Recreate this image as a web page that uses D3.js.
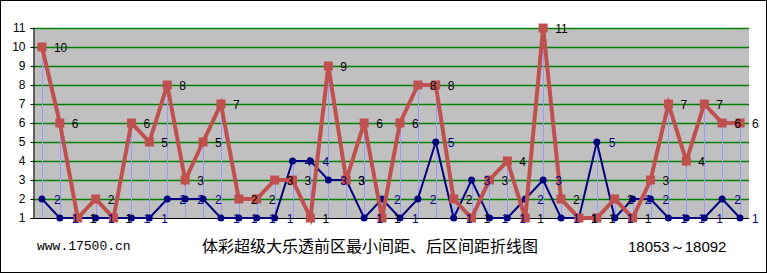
<!DOCTYPE html>
<html>
<head>
<meta charset="utf-8">
<script src="https://cdn.jsdelivr.net/npm/d3@7"></script>
<style>
  body { margin: 0; background: #fff; }
  svg { display: block; }
</style>
</head>
<body>
<div id="chart"></div>
<script>
// issues 18053 .. 18092
const issues = d3.range(18053, 18093).map(String);
// back zone interval (red)
const backGap = [10, 6, 1, 2, 1, 6, 5, 8, 3, 5, 7, 2, 2, 3, 3, 1, 9, 3, 6, 1,
                 6, 8, 8, 2, 1, 3, 4, 1, 11, 2, 1, 1, 2, 1, 3, 7, 4, 7, 6, 6];
// front zone min interval (blue)
const frontMin = [2, 1, 1, 1, 1, 1, 1, 2, 2, 2, 1, 1, 1, 1, 4, 4, 3, 3, 1, 2,
                  1, 2, 5, 1, 3, 1, 1, 2, 3, 1, 1, 5, 1, 2, 2, 1, 1, 1, 2, 1];
const yTicks = d3.range(1, 12);

const width = 767, height = 273;
const margin = { top: 28, right: 18, bottom: 55, left: 33 };

const svg = d3.select("#chart").append("svg")
  .attr("width", width)
  .attr("height", height);

// outer frame
svg.append("rect")
  .attr("x", 0.5).attr("y", 0.5)
  .attr("width", width - 1).attr("height", height - 1)
  .attr("fill", "#fff").attr("stroke", "#000");

const x = d3.scaleBand()
  .domain(issues)
  .range([margin.left, width - margin.right]);
const cx = (d) => x(d) + x.bandwidth() / 2;

const y = d3.scaleLinear()
  .domain([1, 11])
  .range([height - margin.bottom, margin.top]);

// plot background
svg.append("rect")
  .attr("x", margin.left).attr("y", margin.top)
  .attr("width", width - margin.right - margin.left)
  .attr("height", y(1) - y(11))
  .attr("fill", "#c0c0c0");

// gridlines
svg.append("g")
  .selectAll("line")
  .data(yTicks.slice(1))
  .join("line")
  .attr("x1", margin.left).attr("x2", width - margin.right)
  .attr("y1", (d) => y(d) + 0.5).attr("y2", (d) => y(d) + 0.5)
  .attr("stroke", "#008000").attr("stroke-width", 1.5);

// y axis
const yAxis = svg.append("g")
  .attr("transform", `translate(${margin.left + 0.5},0)`)
  .call(d3.axisLeft(y).tickValues(yTicks).tickSize(3).tickFormat(d3.format("d")));
yAxis.select(".domain").attr("stroke", "#000");
yAxis.selectAll("text")
  .attr("x", -8)
  .attr("font-family", "Liberation Sans, Arial, sans-serif")
  .attr("font-size", 12)
  .attr("fill", "#000");

// bottom axis line
svg.append("line")
  .attr("x1", margin.left).attr("x2", width - margin.right)
  .attr("y1", y(1) + 0.5).attr("y2", y(1) + 0.5)
  .attr("stroke", "#000");

const rows = issues.map((d, i) => ({ issue: d, red: backGap[i], blue: frontMin[i] }));

// drop lines
svg.append("g")
  .selectAll("line")
  .data(rows)
  .join("line")
  .attr("x1", (d) => Math.round(cx(d.issue)) + 0.5)
  .attr("x2", (d) => Math.round(cx(d.issue)) + 0.5)
  .attr("y1", (d) => y(Math.max(d.red, d.blue)))
  .attr("y2", y(1))
  .attr("stroke", "#9999ff");

const line = (key) => d3.line()
  .x((d) => cx(d.issue))
  .y((d) => y(d[key]));

// blue series
svg.append("path")
  .datum(rows)
  .attr("d", line("blue"))
  .attr("fill", "none")
  .attr("stroke", "#000080")
  .attr("stroke-width", 2);
svg.append("g")
  .selectAll("circle")
  .data(rows)
  .join("circle")
  .attr("cx", (d) => cx(d.issue))
  .attr("cy", (d) => y(d.blue))
  .attr("r", 3.5)
  .attr("fill", "#000080");

// red series
svg.append("path")
  .datum(rows)
  .attr("d", line("red"))
  .attr("fill", "none")
  .attr("stroke", "#c0504d")
  .attr("stroke-width", 4);
svg.append("g")
  .selectAll("rect")
  .data(rows)
  .join("rect")
  .attr("x", (d) => cx(d.issue) - 4.5)
  .attr("y", (d) => y(d.red) - 4.5)
  .attr("width", 9).attr("height", 9)
  .attr("fill", "#c0504d");

// value labels
svg.append("g")
  .selectAll("text")
  .data(rows)
  .join("text")
  .attr("x", (d) => cx(d.issue) + 12)
  .attr("y", (d) => y(d.blue) + 1)
  .attr("dy", "0.35em")
  .attr("font-family", "Liberation Sans, Arial, sans-serif")
  .attr("font-size", 12)
  .attr("fill", "#000080")
  .text((d) => d.blue);
svg.append("g")
  .selectAll("text")
  .data(rows)
  .join("text")
  .attr("x", (d) => cx(d.issue) + 12)
  .attr("y", (d) => y(d.red) + 1)
  .attr("dy", "0.35em")
  .attr("font-family", "Liberation Sans, Arial, sans-serif")
  .attr("font-size", 12)
  .attr("fill", "#000")
  .text((d) => d.red);

// footer texts
svg.append("text")
  .attr("x", 37).attr("y", 250)
  .attr("font-family", "Liberation Mono, monospace")
  .attr("font-size", 13)
  .text("www.17500.cn");
svg.append("text")
  .attr("x", 370).attr("y", 252)
  .attr("text-anchor", "middle")
  .attr("font-family", "Noto Sans CJK SC, sans-serif")
  .attr("font-size", 16)
  .text("体彩超级大乐透前区最小间距、后区间距折线图");
svg.append("text")
  .attr("x", 628).attr("y", 252)
  .attr("font-family", "Liberation Sans, Arial, sans-serif")
  .attr("font-size", 15)
  .text(`${issues[0]}～${issues[issues.length - 1]}`);
</script>
</body>
</html>
